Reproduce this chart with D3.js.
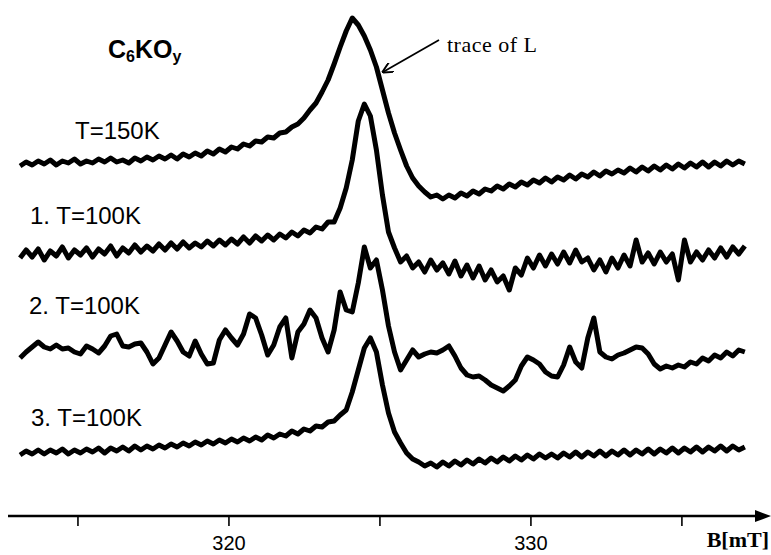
<!DOCTYPE html>
<html>
<head>
<meta charset="utf-8">
<script src="https://cdn.jsdelivr.net/npm/d3@7"></script>
<style>
  body { margin: 0; background: #fff; }
  svg { display: block; }
  .lbl { font-family: "Liberation Sans", Arial, sans-serif; font-size: 24px; fill: #000; }
  .tick text { font-family: "Liberation Sans", Arial, sans-serif; font-size: 20px; }
</style>
</head>
<body>
<svg></svg>
<script>
// field sweep (mT): first point and spacing of the recorded spectra
var fieldStart = 313.1;
var fieldStep = 0.2;

// stacked EPR intensity (a.u.), one value per field step
var trace150K = [
    35.4, 35.8, 35.5, 35.9, 35.6, 36.0, 35.5, 35.9, 35.7, 36.1,
    35.6, 35.9, 35.7, 36.1, 35.8, 36.2, 35.8, 36.0, 35.7, 36.2,
    35.9, 36.3, 36.0, 36.4, 36.1, 36.5, 36.1, 36.6, 36.3, 36.7,
    36.4, 36.9, 36.6, 37.1, 36.8, 37.3, 37.1, 37.6, 37.4, 37.9,
    37.8, 38.3, 38.2, 38.7, 38.8, 39.3, 39.6, 40.2, 41.0, 41.7,
    42.8, 44.0, 45.6, 47.3, 48.9, 50.2, 49.5, 48.4, 47.0, 45.3,
    43.0, 40.7, 38.7, 37.0, 35.4, 34.2, 33.4, 32.8, 32.3, 32.5,
    32.1, 32.5, 32.2, 32.7, 32.4, 32.9, 32.6, 33.1, 32.9, 33.4,
    33.1, 33.6, 33.3, 33.8, 33.5, 34.0, 33.7, 34.2, 33.8, 34.3,
    34.0, 34.5, 34.1, 34.6, 34.3, 34.8, 34.4, 34.9, 34.6, 35.0,
    34.7, 35.2, 34.8, 35.3, 34.9, 35.4, 35.0, 35.5, 35.1, 35.6,
    35.2, 35.7, 35.3, 35.8, 35.3, 35.8, 35.4, 35.9, 35.5, 35.9,
    35.6
];
var trace100K1 = [
    26.2, 27.0, 26.3, 27.1, 26.0, 26.9, 26.4, 27.3, 26.2, 27.0,
    26.5, 27.2, 26.3, 27.1, 26.6, 27.4, 26.4, 27.2, 26.7, 27.5,
    26.8, 27.4, 26.9, 27.6, 27.0, 27.7, 27.1, 27.8, 27.2, 27.7,
    27.3, 27.9, 27.4, 28.0, 27.5, 28.1, 27.6, 28.3, 27.7, 28.4,
    27.9, 28.5, 28.0, 28.6, 28.2, 28.8, 28.4, 29.0, 28.7, 29.3,
    29.1, 29.8, 29.8, 31.2, 33.2, 36.0, 39.9, 41.6, 40.4, 37.0,
    32.5, 28.8, 27.2, 25.8, 26.4, 25.2, 25.8, 24.8, 26.0, 25.0,
    25.7, 24.6, 25.9, 24.4, 25.5, 24.2, 25.4, 24.0, 25.0, 23.8,
    24.4, 23.0, 25.2, 24.5, 26.2, 25.2, 26.5, 25.4, 26.6, 25.6,
    26.8, 25.7, 27.0, 25.8, 26.2, 25.0, 26.0, 24.8, 26.2, 25.2,
    26.5, 25.4, 28.0, 25.8, 26.7, 25.6, 26.8, 25.8, 26.6, 24.0,
    28.0, 25.8, 26.8, 26.0, 27.0, 26.2, 27.2, 26.3, 27.3, 26.6,
    27.4
];
var trace100K2 = [
    16.2, 16.8, 17.3, 17.8, 17.3, 17.1, 17.5, 17.1, 17.2, 16.8,
    16.6, 17.4, 17.1, 16.7, 17.4, 18.4, 18.6, 17.4, 17.3, 17.6,
    17.7, 16.8, 15.6, 16.2, 17.5, 18.8, 17.9, 16.8, 16.4, 17.9,
    16.6, 15.6, 15.7, 18.0, 19.0, 18.2, 17.5, 18.6, 20.6, 20.2,
    18.5, 16.5, 17.5, 19.3, 20.2, 16.2, 18.8, 19.6, 21.0, 20.2,
    18.2, 16.8, 19.0, 22.8, 21.0, 20.8, 23.7, 27.3, 25.2, 26.0,
    23.0, 19.4, 16.8, 15.0, 16.0, 17.0, 16.3, 16.6, 16.8, 16.7,
    17.0, 17.4, 16.4, 15.2, 14.5, 14.3, 14.4, 14.0, 13.5, 13.2,
    12.9, 13.4, 14.0, 15.4, 16.3, 16.0, 15.6, 14.8, 14.4, 14.3,
    15.5, 17.3, 15.8, 15.2, 18.2, 20.2, 16.8, 16.3, 16.1, 16.5,
    16.7, 17.0, 17.3, 17.2, 16.6, 15.6, 15.1, 15.4, 15.2, 15.5,
    15.3, 15.8, 15.6, 16.2, 15.9, 16.5, 16.2, 16.8, 16.4, 17.0,
    16.8
];
var trace100K3 = [
    6.5, 6.9, 6.6, 7.0, 6.6, 7.0, 6.7, 7.1, 6.6, 7.0,
    6.7, 7.1, 6.8, 7.2, 6.7, 7.2, 6.9, 7.3, 6.9, 7.4,
    7.0, 7.4, 7.1, 7.5, 7.2, 7.6, 7.3, 7.7, 7.4, 7.8,
    7.5, 7.9, 7.6, 8.0, 7.7, 8.1, 7.8, 8.2, 7.9, 8.3,
    8.0, 8.5, 8.2, 8.6, 8.4, 8.9, 8.6, 9.1, 8.9, 9.4,
    9.3, 9.8, 9.9, 10.5, 11.0, 12.8, 15.0, 17.2, 18.2, 16.8,
    13.5, 10.7, 8.8, 7.7, 6.7, 6.1, 5.8, 5.4, 5.7, 5.3,
    5.8, 5.4, 5.9, 5.5, 6.0, 5.6, 6.1, 5.7, 6.2, 5.8,
    6.3, 5.9, 6.4, 6.0, 6.5, 6.1, 6.6, 6.2, 6.6, 6.2,
    6.7, 6.3, 6.8, 6.3, 6.8, 6.4, 6.9, 6.4, 6.9, 6.5,
    7.0, 6.5, 7.0, 6.6, 7.1, 6.6, 7.1, 6.7, 7.2, 6.7,
    7.2, 6.8, 7.3, 6.8, 7.3, 6.9, 7.4, 6.9, 7.4, 7.0,
    7.3
];

var traces = [trace150K, trace100K1, trace100K2, trace100K3];
var traceLabels = ['T=150K', '1. T=100K', '2. T=100K', '3. T=100K'];
var axisTicks = [315, 320, 325, 330, 335];
var labelledTicks = [320, 330];

var canvasWidth = 771;
var canvasHeight = 555;
var svg = d3.select('svg')
    .attr('width', canvasWidth)
    .attr('height', canvasHeight);

var xScale = d3.scaleLinear().domain([312.7, 338]).range([8, 772]);
var yScale = d3.scaleLinear().domain([0, 52]).range([520, 0]);
var axisY = 516;

// spectra
var line = d3.line()
    .x(function (d, i) { return xScale(fieldStart + i * fieldStep); })
    .y(function (d) { return yScale(d); });

svg.selectAll('path.trace')
    .data(traces)
    .enter()
    .append('path')
    .attr('class', 'trace')
    .attr('d', line)
    .attr('fill', 'none')
    .attr('stroke', '#000')
    .attr('stroke-width', 5)
    .attr('stroke-linejoin', 'round');

// trace labels
var labelPos = [[75, 139], [30, 224], [29, 314], [31, 426]];
svg.selectAll('text.lbl')
    .data(traceLabels)
    .enter()
    .append('text')
    .attr('class', 'lbl')
    .attr('x', function (d, i) { return labelPos[i][0]; })
    .attr('y', function (d, i) { return labelPos[i][1]; })
    .text(function (d) { return d; });

// sample name C6KOy
var title = svg.append('text')
    .attr('x', 108)
    .attr('y', 58)
    .attr('font-family', '"Liberation Sans", Arial, sans-serif')
    .attr('font-weight', 'bold')
    .attr('font-size', 25);
title.append('tspan').text('C');
title.append('tspan').attr('font-size', 16).attr('dy', 4).text('6');
title.append('tspan').attr('dy', -4).text('KO');
title.append('tspan').attr('font-size', 16).attr('dy', 4).text('y');

// annotation
svg.append('text')
    .attr('x', 447)
    .attr('y', 52)
    .attr('font-family', '"Liberation Serif", "Times New Roman", serif')
    .attr('font-size', 22)
    .attr('letter-spacing', 0.5)
    .text('trace of L');

svg.append('defs').append('marker')
    .attr('id', 'head')
    .attr('viewBox', '0 0 10 10')
    .attr('refX', 9).attr('refY', 5)
    .attr('markerWidth', 11).attr('markerHeight', 11)
    .attr('markerUnits', 'userSpaceOnUse')
    .attr('orient', 'auto')
    .append('path')
    .attr('d', 'M0,0 L10,5 L0,10')
    .attr('fill', 'none')
    .attr('stroke', '#000')
    .attr('stroke-width', 1.8);

svg.append('line')
    .attr('x1', 439).attr('y1', 40)
    .attr('x2', 383).attr('y2', 72)
    .attr('stroke', '#000')
    .attr('stroke-width', 1.8)
    .attr('marker-end', 'url(#head)');

// field axis
var xAxis = d3.axisBottom(xScale)
    .tickValues(axisTicks)
    .tickSize(10)
    .tickFormat(function (d) { return labelledTicks.indexOf(d) >= 0 ? d : ''; });

var axisG = svg.append('g')
    .attr('transform', 'translate(0,' + axisY + ')')
    .call(xAxis);
axisG.select('.domain').remove();
axisG.selectAll('.tick line').attr('stroke-width', 1.6);
axisG.selectAll('.tick text').attr('y', 20).attr('dy', '0.71em');

svg.append('line')
    .attr('x1', 8).attr('y1', axisY)
    .attr('x2', 758).attr('y2', axisY)
    .attr('stroke', '#000')
    .attr('stroke-width', 2.5);
svg.append('path')
    .attr('d', 'M755,' + (axisY - 6) + ' L771,' + axisY + ' L755,' + (axisY + 6) + ' Z')
    .attr('fill', '#000');

svg.append('text')
    .attr('x', 769)
    .attr('y', 547)
    .attr('text-anchor', 'end')
    .attr('font-family', '"Liberation Serif", "Times New Roman", serif')
    .attr('font-weight', 'bold')
    .attr('font-size', 22)
    .text('B[mT]');
</script>
</body>
</html>
